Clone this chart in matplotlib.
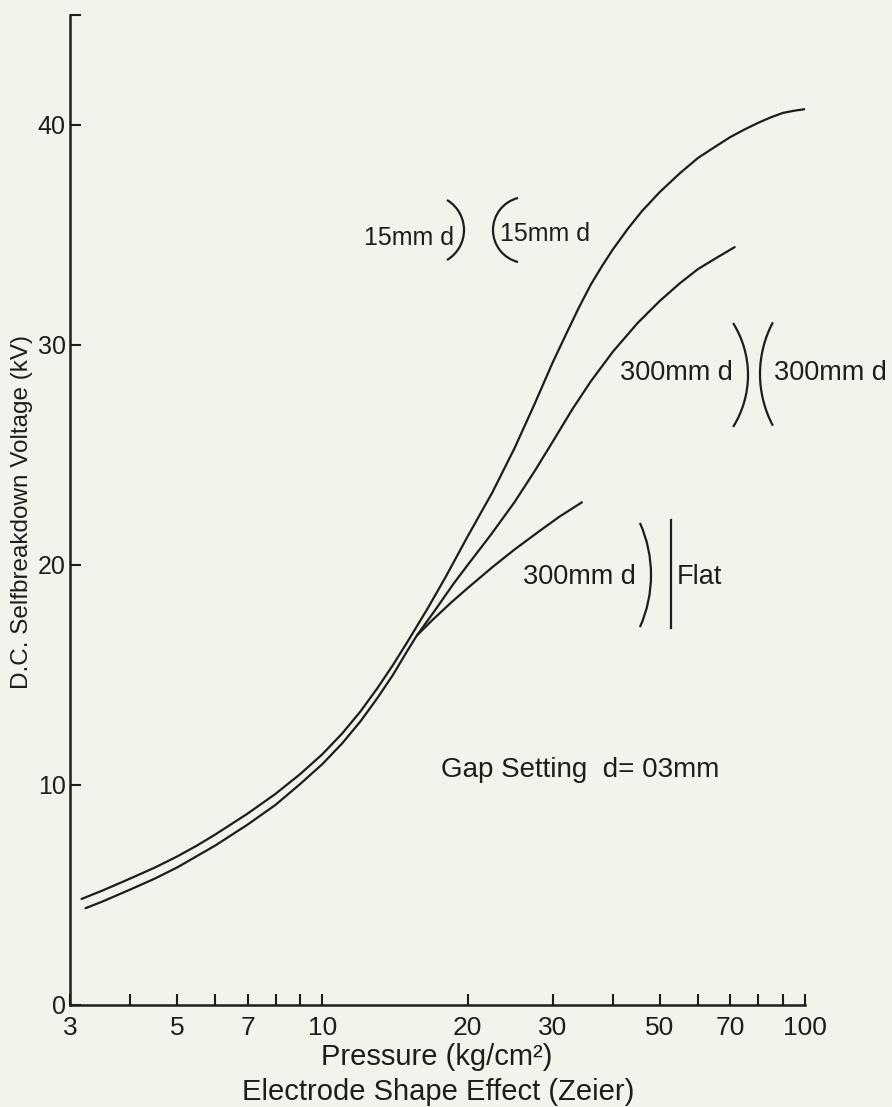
import matplotlib.pyplot as plt
from matplotlib.patches import Arc
from matplotlib.lines import Line2D
from matplotlib.ticker import FixedLocator, FixedFormatter, NullFormatter

# 15mm d ) ( 15mm d
p_15 = [3.17, 3.5, 4, 4.5, 5, 5.5, 6, 7, 8, 9, 10, 11, 12, 13, 14, 15, 16.5, 18, 20,
        22.5, 25, 27.5, 30, 32, 34, 36, 38, 40, 43, 46, 50, 55, 60, 65, 70, 75, 80, 85, 90, 95, 100]
v_15 = [4.82, 5.2, 5.75, 6.25, 6.75, 7.25, 7.75, 8.7, 9.6, 10.5, 11.4, 12.35, 13.35, 14.4, 15.45, 16.5, 18.0, 19.45, 21.3,
        23.3, 25.3, 27.3, 29.2, 30.5, 31.7, 32.75, 33.6, 34.35, 35.3, 36.1, 36.95, 37.8, 38.5, 39.0, 39.45, 39.8, 40.1, 40.35,
        40.55, 40.65, 40.72]

# 300mm d ) ( 300mm d   (lower part is shared with the flat curve)
p_300 = [3.23, 3.5, 4, 4.5, 5, 6, 7, 8, 9, 10, 11, 12, 13, 14, 15, 15.7, 17, 18.7, 20,
         22.3, 25, 27.5, 30, 33, 36, 40, 45, 50, 55, 60, 66, 71.5]
v_300 = [4.4, 4.7, 5.25, 5.75, 6.25, 7.25, 8.2, 9.1, 10.05, 10.95, 11.9, 12.9, 13.95, 15.0, 16.1, 16.8, 17.85, 19.15, 20.0,
         21.35, 22.85, 24.25, 25.6, 27.1, 28.35, 29.7, 31.0, 32.0, 32.8, 33.45, 34.0, 34.45]

# 300mm d ) | Flat   (branches off the curve above)
p_flat = [15.7, 17, 18.5, 20, 22.5, 25, 28, 31, 34.5]
v_flat = [16.8, 17.55, 18.3, 18.95, 19.9, 20.7, 21.5, 22.2, 22.85]

x_major = [3, 5, 7, 10, 20, 30, 50, 70, 100]
x_minor = [4, 6, 8, 9, 40, 60, 80, 90]
y_ticks = [0, 10, 20, 30, 40, 45]
y_labels = ['0', '10', '20', '30', '40', '']

W, H = 892, 1107
paper = '#f2f3eb'
ink = '#1d1d1d'

plt.rcParams['font.family'] = ['Liberation Sans', 'DejaVu Sans']

fig = plt.figure(figsize=(W / 100, H / 100), dpi=100, facecolor=paper)
ax = fig.add_axes([70 / W, 1 - 1005 / H, 735 / W, 990 / H])
ax.set_facecolor(paper)
ax.set_xscale('log')
ax.set_xlim(3, 100)
ax.set_ylim(0, 45)

for s in ['top', 'right']:
    ax.spines[s].set_visible(False)
for s in ['left', 'bottom']:
    ax.spines[s].set_linewidth(1.8)
    ax.spines[s].set_color(ink)

ax.plot(p_15, v_15, color=ink, lw=1.6, solid_capstyle='round', solid_joinstyle='round')
ax.plot(p_300, v_300, color=ink, lw=1.6, solid_capstyle='round', solid_joinstyle='round')
ax.plot(p_flat, v_flat, color=ink, lw=1.6, solid_capstyle='round', solid_joinstyle='round')

ax.xaxis.set_major_locator(FixedLocator(x_major))
ax.xaxis.set_major_formatter(FixedFormatter([str(v) for v in x_major]))
ax.xaxis.set_minor_locator(FixedLocator(x_minor))
ax.xaxis.set_minor_formatter(NullFormatter())
ax.set_yticks(y_ticks)
ax.set_yticklabels(y_labels)
ax.tick_params(axis='x', which='both', direction='in', length=8, width=1.5,
               color=ink, labelcolor=ink, labelsize=19, pad=8)
ax.tick_params(axis='y', direction='in', length=8, width=1.5,
               color=ink, labelcolor=ink, labelsize=18, pad=3)


def px(x, y):
    # pixel position (from top-left) -> figure fraction
    return x / W, 1 - y / H


def arc(cx, cy, r, t1, t2):
    fig.add_artist(Arc((cx / 100, (H - cy) / 100), 2 * r / 100, 2 * r / 100,
                       theta1=t1, theta2=t2, transform=fig.dpi_scale_trans,
                       color=ink, lw=1.6))


# axis titles
fig.text(*px(437, 1057), 'Pressure (kg/cm²)', ha='center', va='center', fontsize=21, color=ink)
fig.text(*px(438, 1092), 'Electrode Shape Effect (Zeier)', ha='center', va='center', fontsize=21, color=ink)
fig.text(*px(22, 512), 'D.C. Selfbreakdown Voltage (kV)', ha='center', va='center',
         rotation=90, fontsize=17.5, color=ink)

# electrode pair labels
fig.text(*px(364, 238), '15mm d', ha='left', va='center', fontsize=18, color=ink)
arc(429, 230, 35, -59, 59)
arc(526, 230, 33, 104, 256)
fig.text(*px(500, 234), '15mm d', ha='left', va='center', fontsize=18, color=ink)

fig.text(*px(620, 373), '300mm d', ha='left', va='center', fontsize=19.5, color=ink)
arc(650, 375, 98, -32, 32)
arc(870, 374, 110, 152, 208)
fig.text(*px(774, 373), '300mm d', ha='left', va='center', fontsize=19.5, color=ink)

fig.text(*px(523, 577), '300mm d', ha='left', va='center', fontsize=19.5, color=ink)
arc(523, 575, 128, -24, 24)
fig.add_artist(Line2D([671 / W, 671 / W], [1 - 520 / H, 1 - 628 / H], color=ink, lw=1.6))
fig.text(*px(677, 577), 'Flat', ha='left', va='center', fontsize=19.5, color=ink)

fig.text(*px(441, 770), 'Gap Setting  d= 03mm', ha='left', va='center', fontsize=20, color=ink)

fig.savefig('out.png', dpi=100, facecolor=paper)
